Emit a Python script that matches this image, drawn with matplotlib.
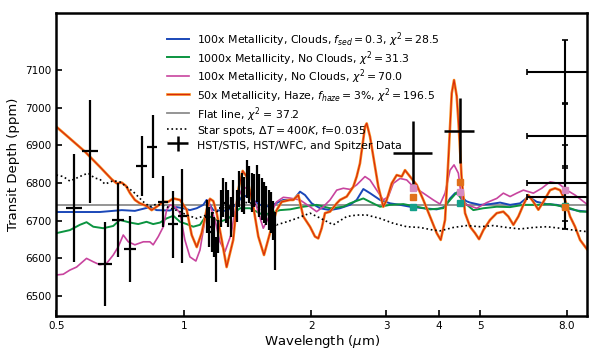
import numpy as np
import matplotlib
matplotlib.use('Agg')
import matplotlib.pyplot as plt
import matplotlib.lines as mlines
from matplotlib.legend_handler import HandlerErrorbar

# model spectra (wavelength in micron, transit depth in ppm)
blue_wl = [0.500, 0.568, 0.633, 0.713, 0.766, 0.831, 0.862, 0.927, 0.961, 0.996, 1.033, 1.072,
           1.111, 1.131, 1.173, 1.261, 1.327, 1.380, 1.432, 1.512, 1.596, 1.655, 1.716, 1.812,
           1.879, 1.931, 2.002, 2.095, 2.212, 2.335, 2.466, 2.557, 2.651, 2.749, 2.903, 3.065,
           3.236, 3.417, 3.673, 3.950, 4.133, 4.247, 4.364, 4.484, 4.633, 4.735, 4.999, 5.278,
           5.573, 5.885, 6.213, 6.500, 6.804, 7.184, 7.585, 8.009, 8.456, 8.929]
blue_ppm = [6723, 6723, 6723, 6728, 6726, 6736, 6728, 6727, 6736, 6733, 6728, 6733,
            6742, 6755, 6728, 6726, 6742, 6768, 6760, 6742, 6737, 6747, 6755, 6755,
            6777, 6768, 6746, 6733, 6728, 6733, 6742, 6755, 6784, 6773, 6755, 6746,
            6742, 6737, 6733, 6730, 6737, 6759, 6773, 6768, 6752, 6748, 6742, 6744,
            6748, 6742, 6746, 6764, 6750, 6744, 6742, 6733, 6727, 6724]

green_wl = [0.500, 0.538, 0.568, 0.589, 0.611, 0.645, 0.681, 0.706, 0.746, 0.780, 0.816, 0.846,
            0.878, 0.910, 0.944, 0.979, 1.015, 1.052, 1.091, 1.131, 1.173, 1.216, 1.270, 1.356,
            1.432, 1.539, 1.596, 1.685, 1.779, 1.913, 2.057, 2.212, 2.378, 2.466, 2.651, 2.749,
            2.903, 3.065, 3.295, 3.543, 3.809, 4.095, 4.247, 4.404, 4.565, 4.820, 5.090, 5.474,
            5.885, 6.326, 6.804, 7.314, 7.722, 8.154, 8.609, 8.929]
green_ppm = [6667, 6675, 6689, 6696, 6684, 6680, 6686, 6702, 6695, 6691, 6697, 6691,
             6695, 6706, 6713, 6697, 6691, 6684, 6689, 6715, 6706, 6697, 6705, 6733,
             6733, 6715, 6720, 6728, 6730, 6737, 6742, 6733, 6737, 6746, 6759, 6750,
             6737, 6742, 6744, 6737, 6730, 6733, 6755, 6775, 6750, 6728, 6733, 6737,
             6736, 6742, 6742, 6744, 6739, 6733, 6724, 6724]

pink_wl = [0.500, 0.519, 0.538, 0.558, 0.589, 0.611, 0.633, 0.657, 0.681, 0.700, 0.719, 0.739,
           0.766, 0.802, 0.831, 0.846, 0.870, 0.894, 0.910, 0.927, 0.952, 0.979, 1.005, 1.033,
           1.067, 1.091, 1.121, 1.141, 1.184, 1.216, 1.250, 1.291, 1.334, 1.380, 1.432, 1.479,
           1.539, 1.596, 1.655, 1.716, 1.779, 1.879, 1.984, 2.057, 2.132, 2.212, 2.294, 2.378,
           2.466, 2.557, 2.675, 2.749, 2.851, 2.955, 3.037, 3.120, 3.236, 3.356, 3.479, 3.673,
           3.878, 4.022, 4.133, 4.247, 4.340, 4.443, 4.526, 4.650, 4.910, 5.185, 5.474, 5.674,
           5.885, 6.103, 6.326, 6.679, 6.991, 7.314, 7.651, 8.009, 8.378, 8.929]
pink_ppm = [6556, 6558, 6569, 6577, 6600, 6591, 6583, 6587, 6609, 6631, 6662, 6644,
            6636, 6644, 6644, 6636, 6658, 6684, 6728, 6742, 6737, 6720, 6649, 6604,
            6593, 6622, 6702, 6755, 6702, 6644, 6618, 6662, 6755, 6790, 6781, 6742,
            6680, 6715, 6750, 6762, 6760, 6755, 6737, 6724, 6737, 6755, 6781, 6786,
            6783, 6795, 6817, 6808, 6781, 6755, 6764, 6799, 6812, 6808, 6790, 6773,
            6755, 6744, 6773, 6834, 6848, 6826, 6755, 6742, 6733, 6748, 6759, 6773,
            6764, 6773, 6781, 6773, 6786, 6803, 6799, 6781, 6768, 6744]

haze_wl = [0.500, 0.538, 0.584, 0.633, 0.675, 0.694, 0.713, 0.730, 0.746, 0.766, 0.787, 0.816,
           0.839, 0.862, 0.894, 0.918, 0.944, 0.979, 1.015, 1.043, 1.072, 1.101, 1.131, 1.152,
           1.173, 1.195, 1.228, 1.261, 1.307, 1.343, 1.376, 1.406, 1.458, 1.498, 1.545, 1.611,
           1.655, 1.701, 1.779, 1.812, 1.862, 1.913, 1.984, 2.038, 2.075, 2.114, 2.152, 2.212,
           2.294, 2.335, 2.422, 2.510, 2.557, 2.603, 2.675, 2.700, 2.749, 2.799, 2.876, 2.955,
           3.010, 3.093, 3.178, 3.266, 3.325, 3.417, 3.543, 3.673, 3.809, 3.950, 4.037, 4.133,
           4.208, 4.286, 4.340, 4.404, 4.443, 4.526, 4.608, 4.735, 4.865, 4.972, 5.090, 5.278,
           5.474, 5.674, 5.830, 5.991, 6.156, 6.326, 6.500, 6.679, 6.863, 7.052, 7.314, 7.515,
           7.722, 7.935, 8.154, 8.378, 8.609, 8.929]
haze_ppm = [6949, 6918, 6883, 6843, 6810, 6799, 6801, 6792, 6773, 6755, 6746, 6739,
            6728, 6737, 6750, 6750, 6759, 6755, 6729, 6662, 6630, 6667, 6728, 6758,
            6752, 6720, 6649, 6577, 6649, 6781, 6832, 6817, 6737, 6658, 6609, 6684,
            6728, 6750, 6755, 6755, 6768, 6711, 6684, 6658, 6653, 6680, 6720, 6724,
            6746, 6755, 6764, 6790, 6817, 6852, 6949, 6958, 6923, 6870, 6790, 6737,
            6755, 6799, 6821, 6817, 6834, 6817, 6795, 6755, 6711, 6667, 6649, 6702,
            6861, 7038, 7073, 7030, 6967, 6808, 6720, 6684, 6667, 6651, 6675, 6702,
            6720, 6724, 6711, 6689, 6711, 6742, 6768, 6750, 6729, 6750, 6781, 6786,
            6781, 6755, 6711, 6684, 6649, 6625]

spots_wl = [0.500, 0.519, 0.538, 0.558, 0.578, 0.594, 0.616, 0.633, 0.651, 0.681, 0.706, 0.732,
            0.759, 0.773, 0.802, 0.831, 0.862, 0.910, 0.979, 1.015, 1.072, 1.131, 1.195, 1.270,
            1.356, 1.458, 1.568, 1.655, 1.748, 1.845, 1.984, 2.095, 2.252, 2.422, 2.557, 2.700,
            2.903, 3.120, 3.356, 3.608, 3.878, 4.022, 4.324, 4.650, 4.999, 5.374, 5.780, 6.213,
            6.679, 7.184, 7.722, 8.301, 8.929]
spots_ppm = [6821, 6817, 6805, 6813, 6821, 6826, 6813, 6810, 6797, 6806, 6803, 6790,
             6777, 6768, 6750, 6737, 6744, 6737, 6724, 6715, 6706, 6715, 6724, 6737,
             6750, 6746, 6720, 6689, 6697, 6706, 6720, 6707, 6689, 6711, 6715, 6715,
             6706, 6693, 6684, 6682, 6675, 6673, 6682, 6687, 6684, 6687, 6682, 6678,
             6682, 6684, 6680, 6675, 6671]

flat_ppm = 6741

# HST/STIS points: centre, bin edges, depth, error
stis_wl = [0.551, 0.600, 0.651, 0.697, 0.746, 0.795, 0.844, 0.894, 0.940, 0.988]
stis_lo = [0.527, 0.575, 0.626, 0.675, 0.722, 0.770, 0.819, 0.870, 0.918, 0.970]
stis_hi = [0.575, 0.626, 0.675, 0.722, 0.770, 0.819, 0.865, 0.918, 0.970, 1.015]
stis_ppm = [6734, 6884, 6586, 6702, 6625, 6845, 6896, 6750, 6690, 6712]
stis_err = [143, 136, 111, 97, 88, 80, 83, 68, 89, 125]

# HST/WFC3 points
wfc_wl = [1.131, 1.148, 1.163, 1.177, 1.190, 1.205, 1.221, 1.238, 1.254, 1.273, 1.289, 1.307,
          1.332, 1.351, 1.369, 1.388, 1.406, 1.426, 1.447, 1.465, 1.485, 1.506, 1.525, 1.544,
          1.561, 1.585, 1.604, 1.625, 1.640]
wfc_ppm = [6711, 6684, 6671, 6658, 6598, 6658, 6733, 6762, 6748, 6733, 6711, 6760,
           6739, 6784, 6775, 6768, 6810, 6795, 6775, 6781, 6799, 6768, 6757, 6748,
           6740, 6728, 6722, 6700, 6646]
wfc_err = [44, 53, 53, 53, 60, 44, 49, 51, 55, 49, 53, 49,
           42, 47, 51, 49, 51, 49, 51, 44, 49, 57, 55, 55,
           51, 53, 55, 51, 78]
wfc_hw = 0.008

# Spitzer points
spz_wl = [3.48, 4.48]
spz_lo = [3.12, 4.12]
spz_hi = [3.85, 4.84]
spz_ppm = [6880, 6939]
spz_err = [84, 87]

# Spitzer 8 micron (several visits)
ch4_wl = 7.95
ch4_lo = 6.44
ch4_hi = 9.6
ch4_ppm = [7095, 6925, 6800, 6762]
ch4_err = [84, 84, 100, 84]

# binned models at the Spitzer bands
bin_wl = [3.48, 4.48, 7.95]
bin_pink = [6786, 6775, 6781]
bin_orange = [6762, 6802, 6736]
bin_teal = [6736, 6748, 6740]

c_blue = '#1a47b8'
c_green = '#0b9440'
c_pink = '#c8449e'
c_orange = '#f58a1f'
c_red = '#d8280c'

fig = plt.figure(figsize=(6, 3.5), dpi=100)
ax = fig.add_axes([0.094, 0.098, 0.884, 0.864])

ax.plot(blue_wl, blue_ppm, color=c_blue, lw=1.4, zorder=2,
        label=r'100x Metallicity, Clouds, $f_{sed}=0.3$, $\chi^2=28.5$')
ax.plot(green_wl, green_ppm, color=c_green, lw=1.4, zorder=2,
        label=r'1000x Metallicity, No Clouds, $\chi^2=31.3$')
ax.plot(pink_wl, pink_ppm, color=c_pink, lw=1.2, zorder=2,
        label=r'100x Metallicity, No Clouds, $\chi^2=70.0$')
# haze model: orange edge with a red core
ax.plot(haze_wl, haze_ppm, color=c_orange, lw=1.9, zorder=2)
ax.plot(haze_wl, haze_ppm, color=c_red, lw=0.8, zorder=2)
ax.axhline(flat_ppm, color='#8c8c8c', lw=1.3, zorder=1)
ax.plot(spots_wl, spots_ppm, color='black', ls=':', lw=1.2, zorder=2)

stis_xerr = [np.array(stis_wl) - np.array(stis_lo), np.array(stis_hi) - np.array(stis_wl)]
ax.errorbar(stis_wl, stis_ppm, yerr=stis_err, xerr=stis_xerr, fmt='none',
            ecolor='black', elinewidth=1.6, capsize=0, zorder=3)
ax.errorbar(wfc_wl, wfc_ppm, yerr=wfc_err, xerr=wfc_hw, fmt='none',
            ecolor='black', elinewidth=1.6, capsize=0, zorder=3)
spz_xerr = [np.array(spz_wl) - np.array(spz_lo), np.array(spz_hi) - np.array(spz_wl)]
ax.errorbar(spz_wl, spz_ppm, yerr=spz_err, xerr=spz_xerr, fmt='none',
            ecolor='black', elinewidth=1.8, capsize=0, zorder=3)
n4 = len(ch4_ppm)
ax.errorbar([ch4_wl] * n4, ch4_ppm, yerr=ch4_err,
            xerr=[[ch4_wl - ch4_lo] * n4, [ch4_hi - ch4_wl] * n4], fmt='none',
            ecolor='black', elinewidth=1.5, capsize=2.5, capthick=1.2, zorder=3)

ax.plot(bin_wl, bin_teal, 's', color='#14a08a', ms=5, zorder=4)
ax.plot(bin_wl, bin_orange, 's', color='#e0701a', ms=5, zorder=4)
ax.plot(bin_wl, bin_pink, 's', color='#d68ac0', ms=5, zorder=4)

# legend handles
h_haze = (mlines.Line2D([], [], color=c_orange, lw=1.9), mlines.Line2D([], [], color=c_red, lw=0.8))
h_flat = mlines.Line2D([], [], color='#8c8c8c', lw=1.3)
h_spots = mlines.Line2D([], [], color='black', ls=':', lw=1.2)
h_data = ax.errorbar([], [], yerr=[], xerr=[], fmt='none', ecolor='black', elinewidth=1.8)
handles, labels = ax.get_legend_handles_labels()
handles = handles[:3] + [h_haze, h_flat, h_spots, h_data]
labels = labels[:3] + [r'50x Metallicity, Haze, $f_{haze}=3\%$, $\chi^2=196.5$',
                       r'Flat line, $\chi^2$ = 37.2',
                       r'Star spots, $\Delta T=400K$, f=0.035',
                       'HST/STIS, HST/WFC, and Spitzer Data']
ax.legend(handles, labels, loc='upper left', bbox_to_anchor=(0.19, 0.975),
          frameon=False, fontsize=7.8, labelspacing=0.0, handleheight=1.6,
          borderpad=0.4,
          handler_map={h_data: HandlerErrorbar(xerr_size=0.95, yerr_size=0.7)})

ax.set_xscale('log')
ax.set_xlim(0.5, 8.93)
ax.set_ylim(6448, 7250)
ax.set_xticks([0.5, 1, 2, 3, 4, 5, 8.0])
ax.set_xticklabels(['0.5', '1', '2', '3', '4', '5', '8.0'])
ax.minorticks_off()
ax.set_yticks([6500, 6600, 6700, 6800, 6900, 7000, 7100])
ax.tick_params(direction='in', length=4, width=1.2, labelsize=7.5)
for s in ax.spines.values():
    s.set_linewidth(1.8)
ax.set_xlabel(r'Wavelength ($\mu$m)', fontsize=9.5, labelpad=2)
ax.set_ylabel('Transit Depth (ppm)', fontsize=9.5, labelpad=4)

fig.savefig('out.png', dpi=100)
